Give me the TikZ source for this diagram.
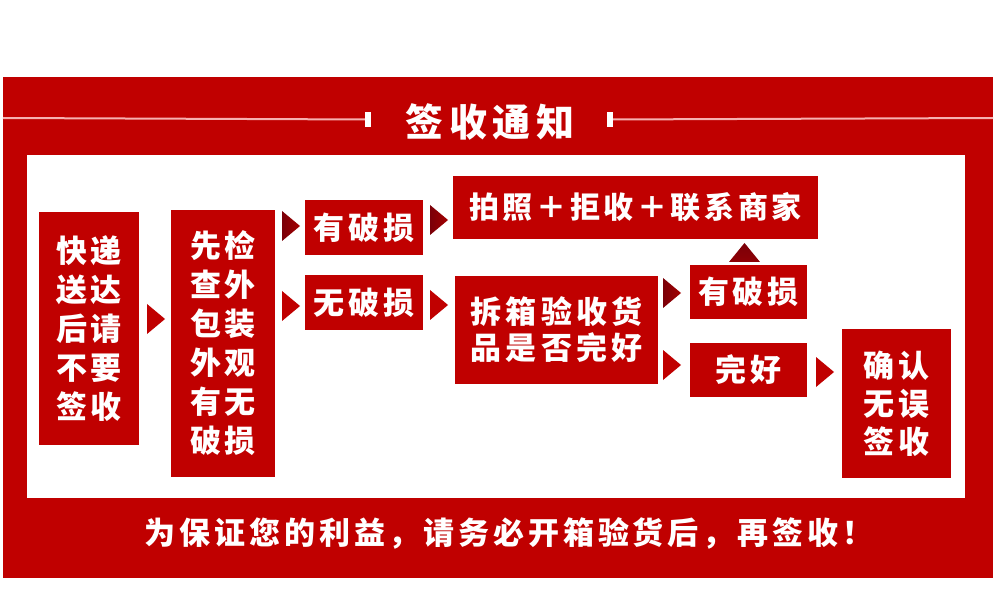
\documentclass[tikz,border=0pt]{standalone}
\usepackage{fontspec}
\setmainfont{Noto Sans CJK SC}[BoldFont={Noto Sans CJK SC Black}]
\usepackage{xcolor}
\usetikzlibrary{positioning}
\definecolor{hred}{HTML}{C00000}
\definecolor{dred}{HTML}{7A0008}
\definecolor{tline}{HTML}{F6B0B0}

\begin{document}
\begin{tikzpicture}[
  x=1pt, y=-1pt,
  box/.style={fill=hred, text=white, inner sep=0pt, align=center,
    font=\fontsize{31}{39}\selectfont\bfseries\addfontfeatures{LetterSpace=12}},
  colbox/.style={box, font=\fontsize{31}{39}\selectfont\bfseries\addfontfeatures{LetterSpace=10}},
  tick/.style={fill=white, inner sep=0pt, minimum width=6, minimum height=15},
  rarr/.style={fill=hred},
  darr/.style={left color=dred, right color=hred!85!black},
  uarr/.style={top color=dred, bottom color=dred!70!hred}
]
\useasboundingbox (0,0) rectangle (994,604);

% frame
\fill[hred] (3,77) rectangle (993,578);
\fill[white] (27,155) rectangle (965,498);

% title bar
\node[text=white, font=\fontsize{38}{40}\selectfont\bfseries\addfontfeatures{LetterSpace=15}] (title) at (490,122) {签收通知};
\coordinate (ll) at (3,118);
\coordinate (rr) at (993,118);
\node[tick] (tl) at (368,119.5) {};
\node[tick] (tr) at (610,119.5) {};
\draw[tline, line width=2] (ll) -- (tl);
\draw[tline, line width=2] (tr) -- (rr);

% boxes
\node[colbox, minimum width=100, minimum height=233] (kuaidi) at (89,328.5) {快递\\送达\\后请\\不要\\签收};
\node[colbox, minimum width=104, minimum height=267] (xianjian) at (223,343.5) {先检\\查外\\包装\\外观\\有无\\破损};
\node[box, minimum width=118, minimum height=55] (yp1) at (364,227.5) {有破损};
\node[box, minimum width=118, minimum height=55] (wp) at (364,302.5) {无破损};
\node[box, minimum width=365, minimum height=63,
  font=\fontsize{30}{36}\selectfont\bfseries\addfontfeatures{LetterSpace=12}] (paizhao) at (635.5,207.5) {拍照＋拒收＋联系商家};
\node[box, minimum width=203, minimum height=107,
  font=\fontsize{31}{36}\selectfont\bfseries\addfontfeatures{LetterSpace=14}] (chaixiang) at (556.5,330) {拆箱验收货\\品是否完好};
\node[box, minimum width=117, minimum height=54] (yp2) at (748.5,292) {有破损};
\node[box, minimum width=117, minimum height=54] (wanhao) at (748.5,370) {完好};
\node[box, minimum width=109, minimum height=149,
  font=\fontsize{31}{38}\selectfont\bfseries\addfontfeatures{LetterSpace=13}] (queren) at (896.5,403.5) {确认\\无误\\签收};

% arrow heads
\foreach \x/\y/\s in {147/319/rarr, 282/226/darr, 282/306/rarr, 430/220/darr,
                      430/305/rarr, 663/293/darr, 663/365/rarr, 816/372/rarr}
  \path[\s] (\x,\y-15) -- (\x+18,\y) -- (\x,\y+15) -- cycle;
\path[uarr] (729,262) -- (744.5,243) -- (760,262) -- cycle;

% footer
\node[text=white, font=\fontsize{31}{34}\selectfont\bfseries\addfontfeatures{LetterSpace=12.5}] (note) at (509,533) {为保证您的利益，请务必开箱验货后，再签收！};
\end{tikzpicture}
\end{document}
